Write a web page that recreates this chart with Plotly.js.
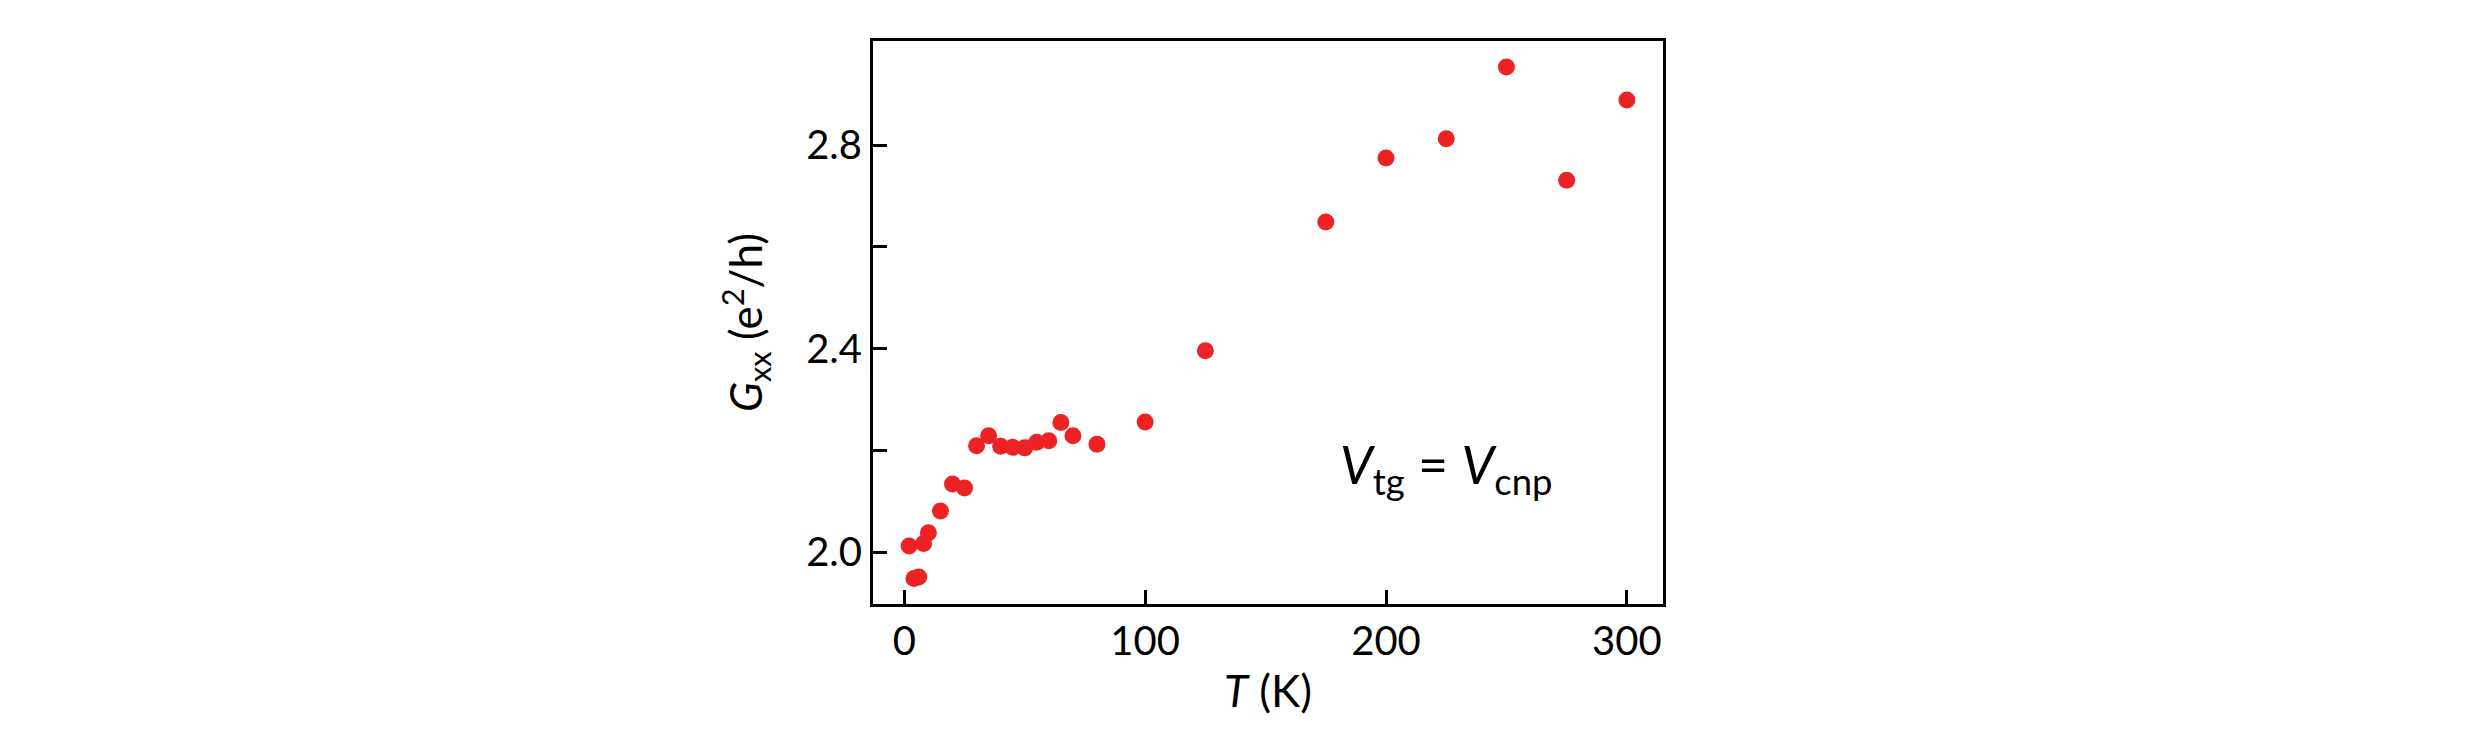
<!DOCTYPE html>
<html>
<head>
<meta charset="utf-8">
<script src="https://cdn.plot.ly/plotly-3.0.1.min.js"></script>
<style>
  html, body { margin: 0; padding: 0; background: #fff; }
  #chart { width: 2481px; height: 754px; }
</style>
</head>
<body>
<div id="chart"></div>
<script>
// Temperature (K)
const temperature = [2, 4, 6, 8, 10, 15, 20, 25, 30, 35, 40, 45, 50, 55, 60, 65, 70, 80,
  100, 125, 175, 200, 225, 250, 275, 300];
// Longitudinal conductance G_xx (e^2/h)
const gxx = [2.012, 1.948, 1.951, 2.017, 2.038, 2.081, 2.134, 2.126, 2.209, 2.229, 2.208,
  2.206, 2.205, 2.216, 2.219, 2.255, 2.229, 2.212,
  2.256, 2.396, 2.649, 2.775, 2.813, 2.954, 2.731, 2.889];

const xTicks = [0, 100, 200, 300];
const yTicks = [2.0, 2.2, 2.4, 2.6, 2.8];
const yTickText = ['2.0', '', '2.4', '', '2.8'];

const fontFamily = 'Lato, "Open Sans", sans-serif';

const trace = {
  x: temperature,
  y: gxx,
  type: 'scatter',
  mode: 'markers',
  marker: { size: 17, color: '#ed2224', line: { width: 0 } },
  hoverinfo: 'x+y',
  showlegend: false,
};

const axisCommon = {
  showline: true,
  linecolor: '#000',
  linewidth: 3,
  mirror: true,
  ticks: 'inside',
  ticklen: 14,
  tickwidth: 3,
  tickcolor: '#000',
  showgrid: false,
  zeroline: false,
  automargin: false,
  tickfont: { family: fontFamily, size: 40, color: '#000' },
};

const layout = {
  width: 2481,
  height: 754,
  paper_bgcolor: '#fff',
  plot_bgcolor: '#fff',
  margin: { l: 873, r: 818, t: 41, b: 150 },
  xaxis: {
    ...axisCommon,
    range: [-13, 315],
    tickmode: 'array',
    tickvals: xTicks,
    ticktext: xTicks.map(String),
    title: {
      text: '<i>T</i> (K)',
      font: { family: fontFamily, size: 44, color: '#000' },
      standoff: 14,
    },
  },
  yaxis: {
    ...axisCommon,
    range: [1.898, 3.005],
    tickmode: 'array',
    tickvals: yTicks,
    ticktext: yTickText,
    title: {
      text: '<i>G</i><sub>xx</sub> (e<sup>2</sup>/h)',
      font: { family: fontFamily, size: 44, color: '#000' },
      standoff: 30,
    },
  },
  annotations: [{
    xref: 'paper',
    yref: 'paper',
    x: 0.589,
    y: 0.175,
    xanchor: 'left',
    yanchor: 'bottom',
    showarrow: false,
    text: '<i>V</i><sub>tg</sub> = <i>V</i><sub>cnp</sub>',
    font: { family: fontFamily, size: 52, color: '#000' },
  }],
};

Plotly.newPlot('chart', [trace], layout, { displayModeBar: false, staticPlot: true });
</script>
</body>
</html>
